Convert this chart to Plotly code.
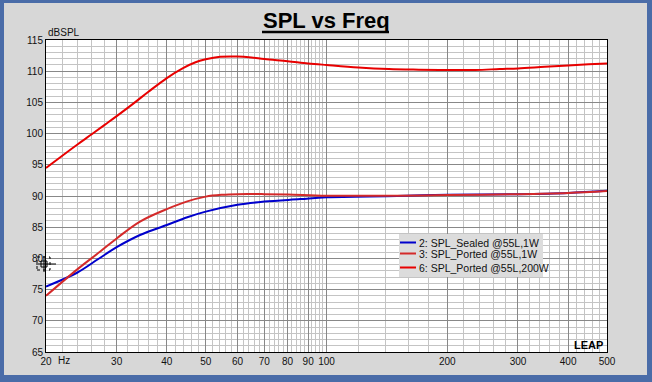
import plotly.graph_objects as go

# ---------------- data ----------------
freq_sealed = [20, 23.9, 27, 30, 34.3, 40, 45, 50, 60, 70, 86, 100, 150, 200, 300, 400, 500]
spl_sealed_1w = [75.5, 77.7, 79.9, 81.8, 83.75, 85.35, 86.6, 87.5, 88.6, 89.1, 89.5, 89.8, 90.0, 90.2, 90.3, 90.5, 90.85]

freq_ported = [20, 24.1, 27.3, 30, 34.3, 40, 44.8, 50, 55, 60, 70, 80, 100, 150, 200, 300, 400, 500]
spl_ported_1w = [74.0, 78.4, 81.1, 83.2, 85.9, 87.9, 89.1, 89.9, 90.2, 90.3, 90.3, 90.25, 90.05, 90.05, 90.15, 90.3, 90.5, 90.8]

freq_200w = [20, 22, 24, 26, 28, 30, 33, 36, 40, 43.9, 47, 50, 54.3, 60, 65, 70, 80, 90, 100,
             120, 143, 170, 200, 235, 270, 300, 350, 400, 450, 500]
spl_ported_200w = [94.5, 96.5, 98.3, 99.9, 101.4, 102.8, 104.8, 106.7, 108.9, 110.5, 111.4, 111.9, 112.3,
                   112.35, 112.2, 111.95, 111.6, 111.25, 111.0, 110.6, 110.35, 110.25, 110.2, 110.2,
                   110.35, 110.45, 110.7, 110.9, 111.1, 111.25]

series_names = ["2: SPL_Sealed @55L,1W", "3: SPL_Ported @55L,1W", "6: SPL_Ported @55L,200W"]
series_colors = ["#0000cc", "#d42a2a", "#e80000"]

x_tick_vals = [20, 30, 40, 50, 60, 70, 80, 90, 100, 200, 300, 400, 500]
x_tick_text = ["20", "30", "40", "50", "60", "70", "80", "90", "100", "200", "300", "400", "500"]
x_minor_vals = list(range(20, 101, 2)) + list(range(120, 501, 20))
y_tick_vals = [65, 70, 75, 80, 85, 90, 95, 100, 105, 110, 115]

FONT = "Liberation Sans, Arial, sans-serif"

# ---------------- layout helpers (pixel -> paper) ----------------
W, H = 652, 382
L, R, T, B = 46, 45, 40, 30
PW, PH = W - L - R, H - T - B


def px(x):
    return (x - L) / PW


def py(y):
    return (H - B - y) / PH


fig = go.Figure()
for fx, fy, name, col in [(freq_sealed, spl_sealed_1w, series_names[0], series_colors[0]),
                          (freq_ported, spl_ported_1w, series_names[1], series_colors[1]),
                          (freq_200w, spl_ported_200w, series_names[2], series_colors[2])]:
    fig.add_trace(go.Scatter(x=fx, y=fy, mode="lines", name=name, showlegend=False,
                             line=dict(color=col, width=2, shape="spline")))

shapes = []
blue = "#4a6ca8"
# window frame bands
for x0, y0, x1, y1 in [(0, 0, 4, H), (0, 0, W, 3), (647, 0, W, H), (0, 375, W, H)]:
    shapes.append(dict(type="rect", xref="paper", yref="paper", x0=px(x0), x1=px(x1),
                       y0=py(y1), y1=py(y0), fillcolor=blue, line=dict(width=0), layer="above"))
# title underline
shapes.append(dict(type="line", xref="paper", yref="paper", x0=px(262), x1=px(389),
                   y0=py(32), y1=py(32), line=dict(color="black", width=2.5)))
# cursor marker
shapes.append(dict(type="rect", xref="paper", yref="paper", x0=px(37), x1=px(50), y0=py(270), y1=py(257),
                   line=dict(color="black", width=1, dash="dot")))
shapes.append(dict(type="rect", xref="paper", yref="paper", x0=px(41), x1=px(47), y0=py(267), y1=py(261),
                   line=dict(color="black", width=1)))
shapes.append(dict(type="line", xref="paper", yref="paper", x0=px(36), x1=px(56), y0=py(264), y1=py(264),
                   line=dict(color="black", width=1)))
shapes.append(dict(type="line", xref="paper", yref="paper", x0=px(44), x1=px(44), y0=py(272), y1=py(256),
                   line=dict(color="black", width=1)))

annotations = [
    dict(text="<b>SPL vs Freq</b>", xref="paper", yref="paper", x=px(326), y=py(20),
         xanchor="center", yanchor="middle", showarrow=False, font=dict(family=FONT, size=22, color="black")),
    dict(text="dBSPL", xref="paper", yref="paper", x=px(46), y=py(32), xanchor="left", yanchor="middle",
         showarrow=False, font=dict(family=FONT, size=10, color="#111")),
    dict(text="Hz", xref="paper", yref="paper", x=px(56), y=py(361), xanchor="left", yanchor="middle",
         showarrow=False, font=dict(family=FONT, size=10, color="#111")),
    dict(text="<b>LEAP</b>", xref="paper", yref="paper", x=px(605), y=py(345), xanchor="right",
         yanchor="middle", showarrow=False, font=dict(family=FONT, size=11, color="black")),
]

# hand-drawn legend box (compact like the reference)
shapes.append(dict(type="rect", xref="paper", yref="paper", x0=px(399), x1=px(543), y0=py(277), y1=py(234),
                   fillcolor="#dcdcdc", line=dict(width=0), layer="above"))
legend_rows = [242.5, 253.5, 267.5]
for name, col, ry in zip(series_names, series_colors, legend_rows):
    shapes.append(dict(type="line", xref="paper", yref="paper", x0=px(400), x1=px(416), y0=py(ry), y1=py(ry),
                       line=dict(color=col, width=2), layer="above"))
    annotations.append(dict(text=name, xref="paper", yref="paper", x=px(417), y=py(ry + 0.5),
                            xanchor="left", yanchor="middle", showarrow=False,
                            font=dict(family=FONT, size=10.5, color="#111")))

fig.update_layout(
    width=W, height=H,
    margin=dict(l=L, r=R, t=T, b=B, pad=0),
    paper_bgcolor="#d7d7d7",
    plot_bgcolor="white",
    font=dict(family=FONT, size=10, color="#111"),
    showlegend=False,
    shapes=shapes,
    annotations=annotations,
)
fig.update_xaxes(type="log", range=[1.30103, 2.69897], tickvals=x_tick_vals, ticktext=x_tick_text,
                 showgrid=True, gridcolor="#888888", gridwidth=1, ticks="",
                 minor=dict(tickvals=x_minor_vals, showgrid=True, gridcolor="#c4c4c4", gridwidth=1, ticks=""),
                 showline=True, linecolor="black", linewidth=1, mirror=True, zeroline=False,
                 tickfont=dict(family=FONT, size=10, color="#111"))
fig.update_yaxes(range=[65, 115], tickvals=y_tick_vals, showgrid=True, gridcolor="#888888", gridwidth=1,
                 ticks="", minor=dict(dtick=1, showgrid=True, gridcolor="#c4c4c4", gridwidth=1, ticks=""),
                 showline=True, linecolor="black", linewidth=1, mirror=True, zeroline=False,
                 tickfont=dict(family=FONT, size=10, color="#111"))

fig.write_html("out.html", config={"displayModeBar": False},
               post_script="document.body.style.margin='0';document.body.style.overflow='hidden';")
